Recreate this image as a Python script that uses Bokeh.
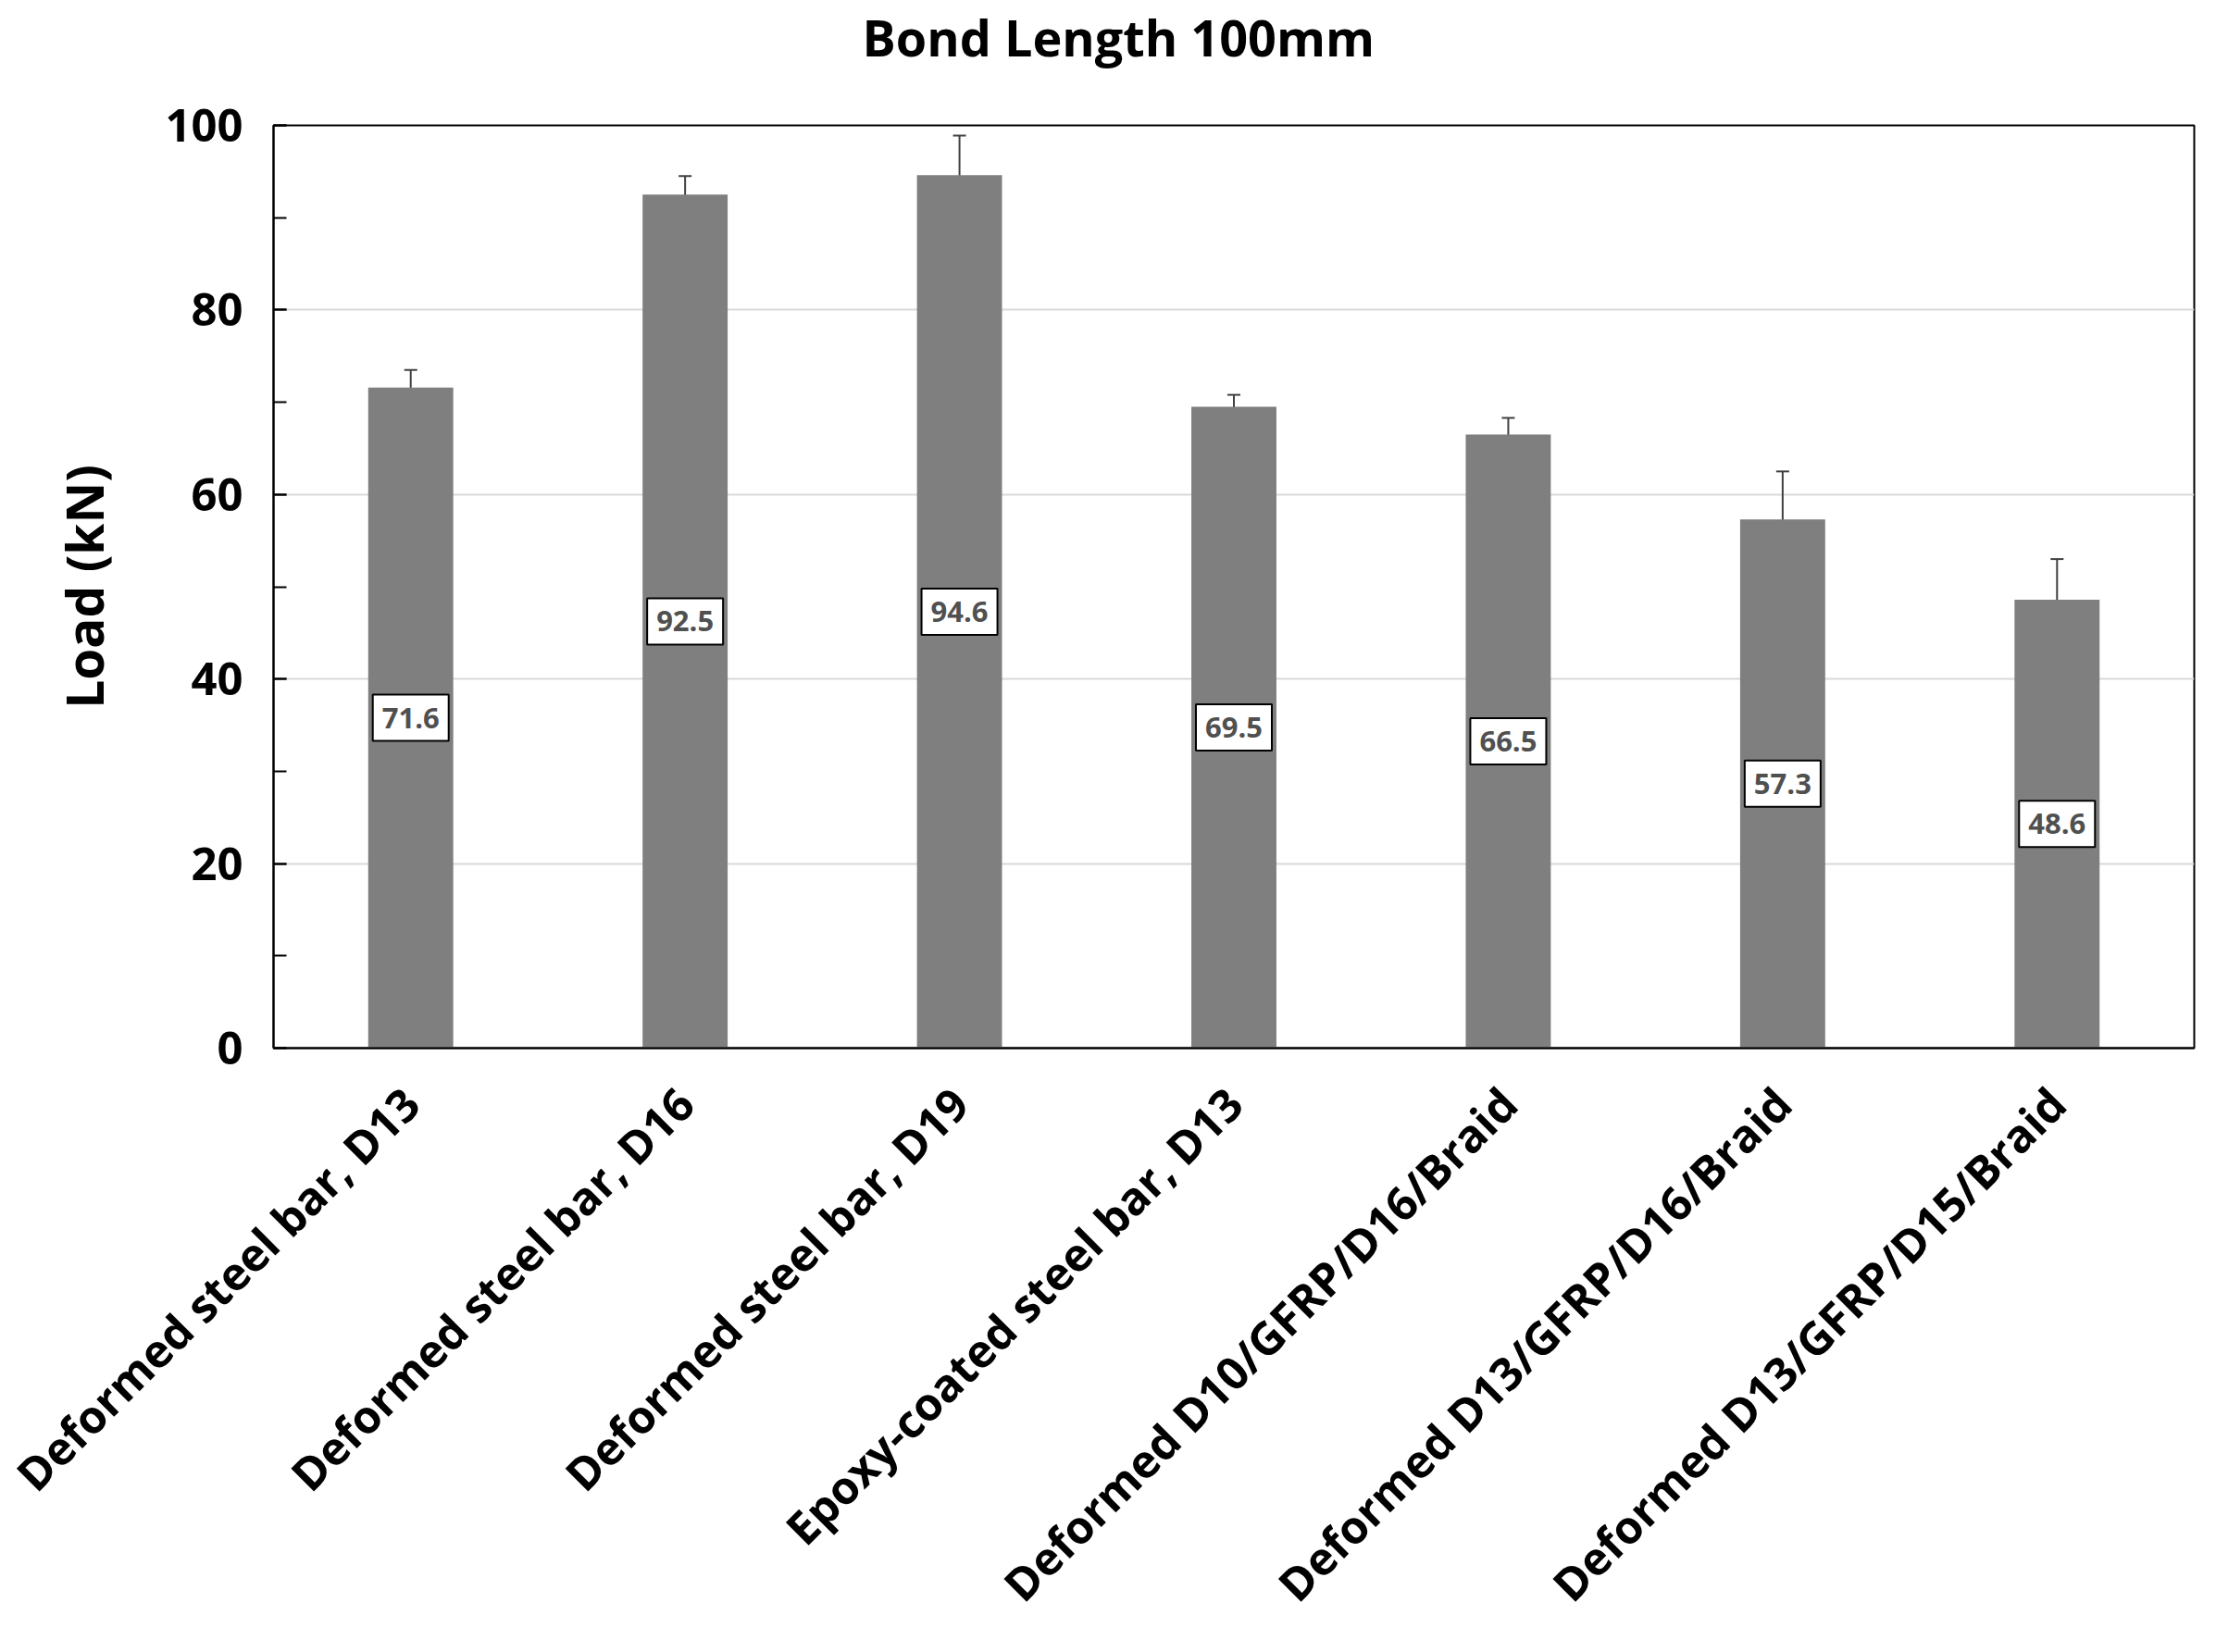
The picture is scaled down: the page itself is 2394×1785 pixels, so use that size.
from bokeh.plotting import figure
from bokeh.models import (ColumnDataSource, FactorRange, Range1d, Whisker, TeeHead,
                          SingleIntervalTicker, Title)
from bokeh.core.properties import value
from bokeh.embed import file_html
from bokeh.resources import INLINE

categories = [
    "Deformed steel bar, D13",
    "Deformed steel bar, D16",
    "Deformed steel bar, D19",
    "Epoxy-coated steel bar, D13",
    "Deformed D10/GFRP/D16/Braid",
    "Deformed D13/GFRP/D16/Braid",
    "Deformed D13/GFRP/D15/Braid",
]
load_kn = [71.6, 92.5, 94.6, 69.5, 66.5, 57.3, 48.6]
error_kn = [1.9, 2.0, 4.3, 1.3, 1.8, 5.2, 4.4]
value_labels = ["71.6", "92.5", "94.6", "69.5", "66.5", "57.3", "48.6"]
title_text = "Bond Length 100mm"

FONT = "Open Sans"

src = ColumnDataSource(dict(
    cat=categories,
    value=load_kn,
    upper=[v + e for v, e in zip(load_kn, error_kn)],
    lower=[v - e for v, e in zip(load_kn, error_kn)],
    mid=[v / 2 for v in load_kn],
    lab=value_labels,
))

W, H = 2378, 1769
p = figure(width=W, height=H, x_range=FactorRange(*categories), y_range=Range1d(0, 100),
           output_backend="svg", toolbar_location=None, title_location=None,
           min_border_left=295, min_border_right=8, min_border_top=133, min_border_bottom=636)

# spacer between frame and title (nearest the frame), then the title itself
spacer = Title(text=" ", text_font_size="2px", standoff=55)
p.add_layout(spacer, "above")
title = Title(text=title_text, align="left", offset=636, standoff=0, vertical_align="bottom",
              text_font=FONT, text_font_size="54px", text_font_style="bold", text_color="black")
p.add_layout(title, "above")

p.vbar(x="cat", top="value", width=0.31, source=src, color="#7f7f7f", line_color=None)

wh = Whisker(source=src, base="cat", upper="upper", lower="lower",
             line_color="#404040", line_width=2,
             upper_head=TeeHead(size=14, line_color="#404040", line_width=2),
             lower_head=TeeHead(size=14, line_color="#404040", line_width=2))
p.add_layout(wh)

p.rect(x="cat", y="mid", width=82, height=50, width_units="screen", height_units="screen",
       source=src, fill_color="white", line_color="black", line_width=2)
p.text(x="cat", y="mid", text="lab", source=src, text_align="center", text_baseline="middle",
       text_font=value(FONT), text_font_size="31px", text_font_style="bold", text_color="#505050")

# axes
p.yaxis.ticker = SingleIntervalTicker(interval=20, num_minor_ticks=2)
p.yaxis.axis_label = "Load (kN)"
p.yaxis.axis_label_text_font = FONT
p.yaxis.axis_label_text_font_size = "55px"
p.yaxis.axis_label_text_font_style = "bold"
p.yaxis.axis_label_text_color = "black"
p.yaxis.axis_label_standoff = 47
p.yaxis.major_label_text_font = FONT
p.yaxis.major_label_text_font_size = "49px"
p.yaxis.major_label_text_font_style = "bold"
p.yaxis.major_label_text_color = "black"
p.yaxis.major_label_standoff = 33
p.yaxis.major_tick_in = 14
p.yaxis.major_tick_out = 0
p.yaxis.minor_tick_in = 14
p.yaxis.minor_tick_out = 0
p.yaxis.major_tick_line_width = 2
p.yaxis.minor_tick_line_width = 2
p.yaxis.axis_line_width = 2
p.yaxis.axis_line_color = "black"

p.xaxis.major_label_orientation = 0.785398
p.xaxis.major_label_text_font = FONT
p.xaxis.major_label_text_font_size = "49px"
p.xaxis.major_label_text_font_style = "bold"
p.xaxis.major_label_text_color = "black"
p.xaxis.major_label_standoff = 45
p.xaxis.major_tick_line_color = None
p.xaxis.minor_tick_line_color = None
p.xaxis.axis_line_width = 2
p.xaxis.axis_line_color = "black"

p.xgrid.grid_line_color = None
p.ygrid.grid_line_color = "#d9d9d9"
p.ygrid.grid_line_width = 2

p.outline_line_color = "black"
p.outline_line_width = 2
p.outline_line_alpha = 1
p.background_fill_color = "white"
p.border_fill_color = "white"

open("out.html", "w").write(file_html(p, INLINE))
